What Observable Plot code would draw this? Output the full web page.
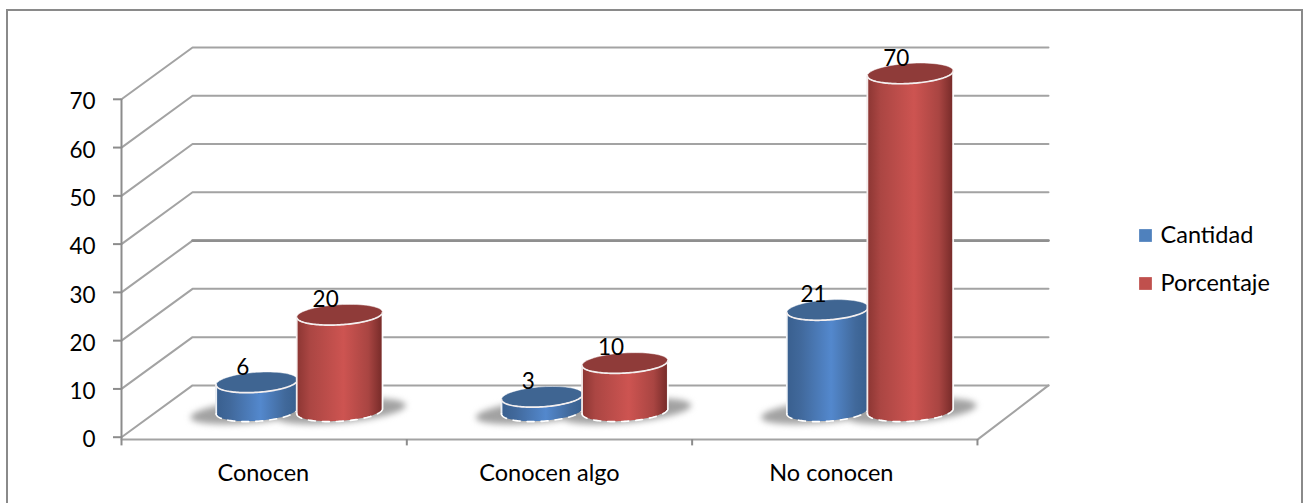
<!DOCTYPE html>
<html>
<head>
<meta charset="utf-8">
<script src="https://cdn.jsdelivr.net/npm/d3@7"></script>
<script src="https://cdn.jsdelivr.net/npm/@observablehq/plot@0.6"></script>
<style>
  html, body { margin: 0; padding: 0; background: #fff; overflow: hidden; width: 1310px; height: 503px; }
  #chart { position: relative; width: 1310px; height: 503px; overflow: hidden; }
  #frame { position: absolute; left: 6px; top: 9px; width: 1297px; height: 540px; border: 2px solid #8a8a8a; box-sizing: border-box; pointer-events: none; }
  svg { display: block; }
</style>
</head>
<body>
<div id="chart"><div id="frame"></div></div>
<script>
// Survey results: how many respondents know the topic, as count and percentage.
const categories = ["Conocen", "Conocen algo", "No conocen"];
const categoryTicks = [0.497, 1.5, 2.488];
const seriesNames = ["Cantidad", "Porcentaje"];
const seriesColors = ["#4f81bd", "#c0504d"];
const cantidad = [6, 3, 21];
const porcentaje = [20, 10, 70];
const yTicks = [0, 10, 20, 30, 40, 50, 60, 70];

const font = "Lato, 'Open Sans', sans-serif";
const grey = "#a3a3a3";
const axisGrey = "#8c8c8c";
const wordSize = 23.5;
const digitSize = 22.5;

// Oblique projection: one unit of depth shifts a point right and up in data units.
const depthX = 0.249;
const depthY = 10.73;
const px = (u, d) => u + d * depthX;
const py = (v, d) => v + d * depthY;

// Cylinder footprint on the floor, in category units and depth units.
const radiusD = 0.2;
const midDepth = 0.5;
const skewCylinder = 0.72;
const tangent = (ru, rd, skew) => Math.atan2(rd * skew * depthX, ru);

const ring = (cu, v, ru, rd, skew, from, to, n = 72) =>
  d3.range(n + 1).map((k) => {
    const t = from + ((to - from) * k) / n;
    const s = Math.sin(t);
    return {
      x: px(cu + ru * Math.cos(t), midDepth + rd * skew * s),
      y: py(v, midDepth + rd * s),
      base: py(0, midDepth + rd * s)
    };
  });

const columns = [
  { name: seriesNames[0], values: cantidad, offset: -0.15, radius: 0.138, fill: "url(#sideBlue)", cap: "#3f6592" },
  { name: seriesNames[1], values: porcentaje, offset: 0.14, radius: 0.146, fill: "url(#sideRed)", cap: "#8f3b39" }
];

// Soft floor shadow under each pair of cylinders.
const shadowRows = categories.flatMap((c, i) =>
  columns.flatMap((s) =>
    ring(i + 0.5 + s.offset * 1.04, 0, 0.2, 0.25, 1.7, 0, 2 * Math.PI).map((p) => ({ ...p, key: c + s.name }))
  )
);

function cylinderMarks(s) {
  const t0 = tangent(s.radius, radiusD, skewCylinder);
  const rows = s.values.map((value, i) => ({ value, i, cu: i + 0.5 + s.offset }));
  const front = rows.flatMap((r) =>
    ring(r.cu, r.value, s.radius, radiusD, skewCylinder, t0 + Math.PI, t0 + 2 * Math.PI).map((p) => ({ ...p, key: r.i }))
  );
  const cap = rows.flatMap((r) =>
    ring(r.cu, r.value, s.radius, radiusD, skewCylinder, 0, 2 * Math.PI).map((p) => ({ ...p, key: r.i }))
  );
  const edges = rows.flatMap((r) =>
    [t0 + Math.PI, t0].flatMap((t, e) => {
      const [p] = ring(r.cu, r.value, s.radius, radiusD, skewCylinder, t, t, 1);
      return [
        { x: p.x, y: p.y, key: `${r.i}-${e}` },
        { x: p.x, y: p.base, key: `${r.i}-${e}` }
      ];
    })
  );
  return [
    Plot.area(front, { x1: "x", y1: "base", y2: "y", z: "key", fill: s.fill }),
    Plot.line(edges, { x: "x", y: "y", z: "key", stroke: "#fff", strokeWidth: 1.8, strokeOpacity: 0.9 }),
    Plot.line(front, { x: "x", y: "base", z: "key", stroke: "#fff", strokeWidth: 1.6, strokeDasharray: "7 7" }),
    Plot.line(cap, { x: "x", y: "y", z: "key", fill: s.cap, stroke: "#fff", strokeOpacity: 0.45, strokeWidth: 1 }),
    Plot.line(front, { x: "x", y: "y", z: "key", stroke: "#f4efef", strokeWidth: 1.7 })
  ];
}

// Wall and side lines: each runs from the front axis to the back, then across the wall.
const gridRows = yTicks.flatMap((v) => [
  { tick: v, x: px(0, 0), y: py(v, 0) },
  { tick: v, x: px(0, 1), y: py(v, 1) },
  { tick: v, x: px(3, 1), y: py(v, 1) }
]);
const heavyWallLine = gridRows.filter((d) => d.tick === 30 && d.x !== px(0, 0));
const floorEdge = [
  { x: px(3, 1), y: py(0, 1) },
  { x: px(3, 0), y: -0.5 },
  { x: px(0, 0), y: -0.5 }
];

// Gradients for the curved cylinder sides.
const gradient = (id, stops) => () => {
  const defs = d3.create("svg:defs");
  const g = defs.append("linearGradient").attr("id", id).attr("x1", 0).attr("x2", 1).attr("y1", 0).attr("y2", 0);
  stops.forEach(([o, c]) => g.append("stop").attr("offset", o).attr("stop-color", c));
  return defs.node();
};

const labelRows = columns.flatMap((s) =>
  s.values.map((value, i) => ({ value, x: px(i + 0.5 + s.offset, midDepth), y: py(value, midDepth) }))
);

// Legend rows sit to the right of the plot area.
const legendMarks = seriesNames.flatMap((name, i) => [
  Plot.dot([name], { frameAnchor: "top-right", dx: 97, dy: 188 + i * 48, symbol: "square", r: 7.2, fill: seriesColors[i] }),
  Plot.text([name], { frameAnchor: "top-right", dx: 112, dy: 188 + i * 48, textAnchor: "start", lineAnchor: "middle", fontSize: wordSize, fill: "#000" })
]);

const chart = Plot.plot({
  width: 1310,
  height: 503,
  marginLeft: 121,
  marginRight: 262,
  marginTop: 47,
  marginBottom: 66.3,
  style: { fontFamily: font, background: "transparent", overflow: "visible" },
  x: { domain: [0, 3 + depthX], axis: null, label: null },
  y: { domain: [0, 70 + depthY], axis: null, label: null },
  marks: [
    gradient("sideBlue", [[0, "#395f8e"], [0.18, "#41699c"], [0.55, "#5388cd"], [0.85, "#41699b"], [1, "#38608f"]]),
    gradient("sideRed", [[0, "#8a3532"], [0.16, "#ab4643"], [0.55, "#cd5451"], [0.84, "#a94542"], [1, "#772b29"]]),

    Plot.line(gridRows, { x: "x", y: "y", z: "tick", stroke: grey, strokeWidth: 2 }),
    Plot.line(heavyWallLine, { x: "x", y: "y", stroke: "#8f8f8f", strokeWidth: 2.6 }),
    Plot.line(floorEdge, { x: "x", y: "y", stroke: grey, strokeWidth: 2 }),

    // Axes
    Plot.ruleX([0], { y1: -0.5, y2: 70, stroke: axisGrey, strokeWidth: 2 }),
    Plot.ruleY(yTicks, { x1: -0.028, x2: 0, stroke: axisGrey, strokeWidth: 2 }),
    Plot.axisY({ ticks: yTicks, tickSize: 0, tickPadding: 26, dy: 3, fontSize: digitSize, fill: "#000", label: null }),
    Plot.ruleX([0, 1, 2, 3], { y1: -0.5, y2: -1.8, stroke: axisGrey, strokeWidth: 2 }),
    Plot.axisX({
      ticks: categoryTicks,
      tickFormat: (t) => categories[categoryTicks.indexOf(t)],
      tickSize: 0,
      tickPadding: 27,
      fontSize: wordSize,
      fill: "#000",
      label: null
    }),

    Plot.line(shadowRows, { x: "x", y: "base", z: "key", fill: "#a2a2a2", imageFilter: "blur(3px)" }),
    ...columns.flatMap(cylinderMarks),

    // Values above the cylinders
    Plot.text(labelRows, { x: "x", y: "y", text: "value", dx: -14, dy: -15, fontSize: digitSize, fill: "#000" }),

    ...legendMarks
  ]
});
document.getElementById("chart").prepend(chart);
</script>
</body>
</html>
